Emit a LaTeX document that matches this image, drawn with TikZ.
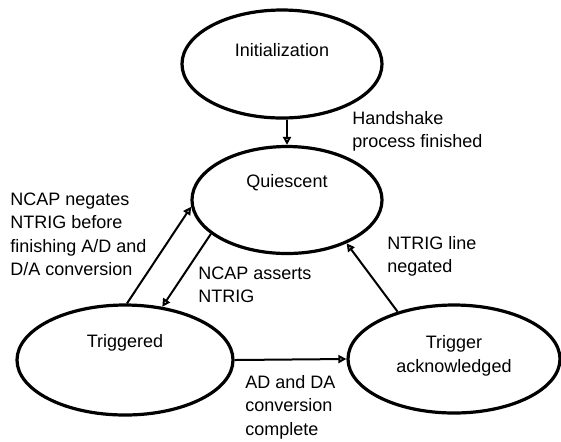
\documentclass[tikz,border=0pt]{standalone}
\usepackage{fontspec}
\setmainfont{Liberation Sans}
\usetikzlibrary{shapes.geometric,arrows.meta}
\begin{document}
\begin{tikzpicture}[x=0.5pt,y=-0.5pt,
  state/.style={draw,ellipse,line width=1.6pt,inner sep=0pt},
  txt/.style={font=\fontsize{9}{11.75}\selectfont,align=left,inner sep=0pt,anchor=west},
  statetxt/.style={font=\fontsize{9}{11.75}\selectfont,align=center,inner sep=0pt},
  arr/.style={line width=1pt,-{Triangle[open,length=4pt,width=4pt]}}]
\useasboundingbox (0,0) rectangle (561,441);


\node (init) [state,minimum width=100pt,minimum height=54pt] at (282,64) {};
\node (quiescent) [state,minimum width=95pt,minimum height=53.5pt] at (287,200) {};
\node (triggered) [state,minimum width=108pt,minimum height=55pt] at (125,360) {};
\node (ack) [state,minimum width=106pt,minimum height=54pt] at (454,359) {};

\node (init-txt) [statetxt] at (282,50) {Initialization};
\node (quiescent-txt) [statetxt] at (287,183) {Quiescent};
\node (triggered-txt) [statetxt] at (125,343) {Triggered};
\node (ack-txt) [statetxt] at (454,356) {Trigger\\acknowledged};



\draw[arr] (quiescent.north |- init.south) -- (quiescent.north);
\draw[arr] (triggered.88) -- (quiescent.184);
\draw[arr] (quiescent.204) -- (triggered.55);
\draw[arr] (ack.140) -- (quiescent.324);
\draw[arr] (triggered.east) -- (ack.west);



\node (handshake) [txt] at (352,131.5) {Handshake\\process finished};
\node (negates) [txt] at (10,234.5) {NCAP negates\\NTRIG before\\finishing A/D and\\D/A conversion};
\node (asserts) [txt] at (198,285) {NCAP asserts\\NTRIG};
\node (negated) [txt] at (387,256.5) {NTRIG line\\negated};
\node (complete) [txt] at (245,407) {AD and DA\\conversion\\complete};
\end{tikzpicture}
\end{document}
